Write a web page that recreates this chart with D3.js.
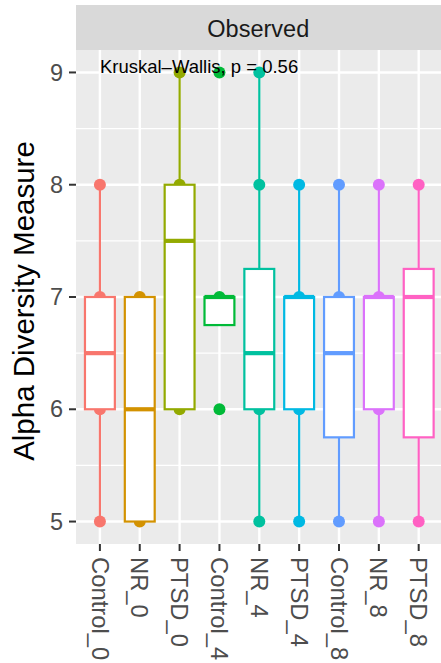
<!DOCTYPE html>
<html>
<head>
<meta charset="utf-8">
<script src="https://cdn.jsdelivr.net/npm/d3@7"></script>
<style>
  html, body { margin: 0; padding: 0; background: #fff; }
  svg { display: block; font-family: "Liberation Sans", Arial, Helvetica, sans-serif; }
</style>
</head>
<body>
<script>
// ---- data ----
const categories = ["Control_0","NR_0","PTSD_0","Control_4","NR_4","PTSD_4","Control_8","NR_8","PTSD_8"];
const colors = ["#F8766D","#D39200","#93AA00","#00BA38","#00C19F","#00B9E3","#619CFF","#DB72FB","#FF61C3"];
const whiskerLow  = [5, 5, 6, 6.75, 5, 5, 5, 5, 5];
const q1          = [6, 5, 6, 6.75, 6, 6, 5.75, 6, 5.75];
const medians     = [6.5, 6, 7.5, 7, 6.5, 7, 6.5, 7, 7];
const q3          = [7, 7, 8, 7, 7.25, 7, 7, 7, 7.25];
const whiskerHigh = [8, 7, 9, 7, 9, 8, 8, 8, 8];
const observed = [
  [5, 6, 7, 8],
  [5, 7],
  [6, 8, 9],
  [6, 7, 9],
  [5, 6, 7, 8, 9],
  [5, 6, 7, 8],
  [5, 6, 7, 8],
  [5, 6, 7, 8],
  [5, 6, 7, 8]
];
const yTicks = [5, 6, 7, 8, 9];
const yMinor = [5.5, 6.5, 7.5, 8.5];
const stripLabel = "Observed";
const yTitle = "Alpha Diversity Measure";
const testLabel = "Kruskal\u2013Wallis, p = 0.56";

// ---- layout ----
const W = 441, H = 663;
const panel = { left: 76, right: 442.6, top: 50, bottom: 544 };
const strip = { top: 5, bottom: 50 };

const svg = d3.select("body").append("svg").attr("width", W).attr("height", H);

const x = d3.scalePoint().domain(categories).range([panel.left, panel.right]).padding(0.6);
const y = d3.scaleLinear().domain([4.8, 9.2]).range([panel.bottom, panel.top]);
const step = x.step();
const boxW = step * 0.75;

// strip
svg.append("rect").attr("x", panel.left).attr("y", strip.top)
  .attr("width", panel.right - panel.left).attr("height", strip.bottom - strip.top)
  .attr("fill", "#D9D9D9");
svg.append("text").attr("x", (panel.left + panel.right) / 2 - 1).attr("y", 36.5)
  .attr("text-anchor", "middle").attr("font-size", 23.5).attr("fill", "#1A1A1A")
  .text(stripLabel);

// panel background
svg.append("rect").attr("x", panel.left).attr("y", panel.top)
  .attr("width", panel.right - panel.left).attr("height", panel.bottom - panel.top)
  .attr("fill", "#EBEBEB");

const grid = svg.append("g");
grid.selectAll("line.minor").data(yMinor).join("line")
  .attr("x1", panel.left).attr("x2", panel.right)
  .attr("y1", d => y(d)).attr("y2", d => y(d))
  .attr("stroke", "#fff").attr("stroke-width", 1.2);
grid.selectAll("line.majy").data(yTicks).join("line")
  .attr("x1", panel.left).attr("x2", panel.right)
  .attr("y1", d => y(d)).attr("y2", d => y(d))
  .attr("stroke", "#fff").attr("stroke-width", 2.4);
grid.selectAll("line.majx").data(categories).join("line")
  .attr("y1", panel.top).attr("y2", panel.bottom)
  .attr("x1", d => x(d)).attr("x2", d => x(d))
  .attr("stroke", "#fff").attr("stroke-width", 2.4);

// points (drawn beneath boxes)
const pts = [];
categories.forEach((c, i) => observed[i].forEach(v => pts.push({ c, v, col: colors[i] })));
svg.append("g").selectAll("circle").data(pts).join("circle")
  .attr("cx", d => x(d.c)).attr("cy", d => y(d.v)).attr("r", 6)
  .attr("fill", d => d.col);

// boxplots
const boxes = svg.append("g");
categories.forEach((c, i) => {
  const g = boxes.append("g");
  const cx = x(c), col = colors[i];
  g.append("line").attr("x1", cx).attr("x2", cx)
    .attr("y1", y(q3[i])).attr("y2", y(whiskerHigh[i]))
    .attr("stroke", col).attr("stroke-width", 2.2);
  g.append("line").attr("x1", cx).attr("x2", cx)
    .attr("y1", y(q1[i])).attr("y2", y(whiskerLow[i]))
    .attr("stroke", col).attr("stroke-width", 2.2);
  g.append("rect").attr("x", cx - boxW / 2).attr("width", boxW)
    .attr("y", y(q3[i])).attr("height", Math.max(0.01, y(q1[i]) - y(q3[i])))
    .attr("fill", "#fff").attr("stroke", col).attr("stroke-width", 2.2);
  g.append("line").attr("x1", cx - boxW / 2).attr("x2", cx + boxW / 2)
    .attr("y1", y(medians[i])).attr("y2", y(medians[i]))
    .attr("stroke", col).attr("stroke-width", 4.2);
});

// test label
svg.append("text").attr("x", x(categories[0])).attr("y", 73)
  .attr("font-size", 18.5).attr("fill", "#000").text(testLabel);

// y axis
const yAxis = svg.append("g");
yAxis.selectAll("line").data(yTicks).join("line")
  .attr("x1", panel.left - 7).attr("x2", panel.left)
  .attr("y1", d => y(d)).attr("y2", d => y(d))
  .attr("stroke", "#333333").attr("stroke-width", 2);
yAxis.selectAll("text").data(yTicks).join("text")
  .attr("x", panel.left - 13).attr("y", d => y(d)).attr("dy", "0.35em")
  .attr("text-anchor", "end").attr("font-size", 23.5).attr("fill", "#4D4D4D")
  .text(d => d);

// x axis
const xAxis = svg.append("g");
xAxis.selectAll("line").data(categories).join("line")
  .attr("x1", d => x(d)).attr("x2", d => x(d))
  .attr("y1", panel.bottom).attr("y2", panel.bottom + 7)
  .attr("stroke", "#333333").attr("stroke-width", 2);
xAxis.selectAll("text").data(categories).join("text")
  .attr("transform", d => `translate(${x(d)},${panel.bottom + 13}) rotate(90)`)
  .attr("dy", "0.35em").attr("text-anchor", "start")
  .attr("font-size", 23.8).attr("fill", "#4D4D4D")
  .text(d => d);

// y title
svg.append("text")
  .attr("transform", `translate(34,${(panel.top + panel.bottom) / 2 + 4}) rotate(-90)`)
  .attr("text-anchor", "middle").attr("font-size", 29.5).attr("fill", "#000")
  .text(yTitle);
</script>
</body>
</html>
